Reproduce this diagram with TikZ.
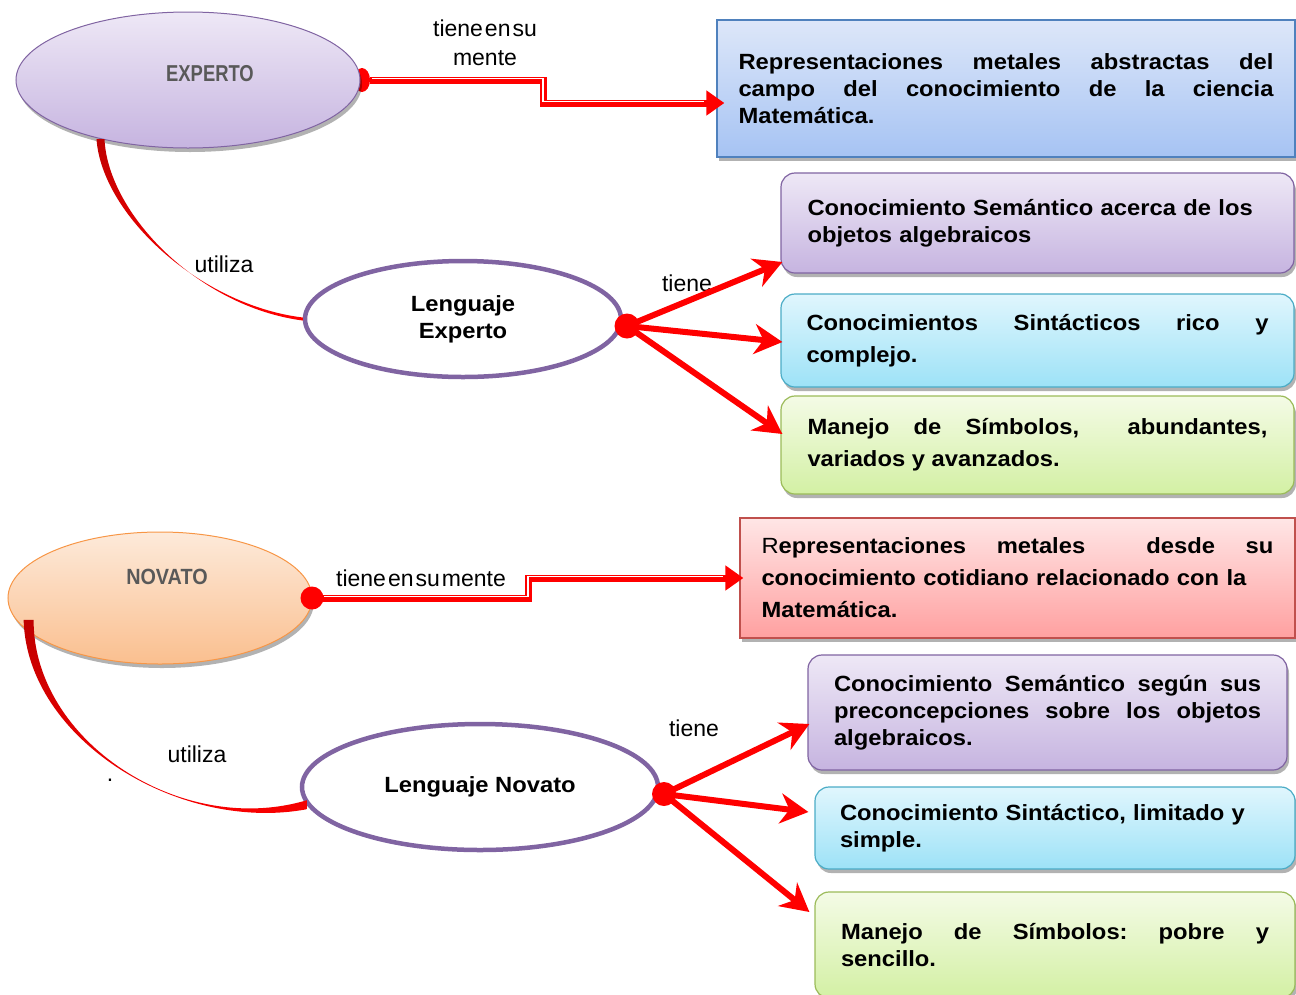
\documentclass[tikz,border=0pt]{standalone}
\usepackage{fontspec}
\setmainfont{Liberation Sans}
\newfontfamily\boxfont[FakeStretch=1.08]{Liberation Sans}
\newfontfamily\condfont[FakeStretch=0.8]{Liberation Sans}
\newfontfamily\semifont[FakeStretch=0.9]{Liberation Sans}
\usetikzlibrary{arrows.meta,shapes.geometric,shadows,backgrounds,calc}
\frenchspacing
\definecolor{purB}{HTML}{8064A2}
\definecolor{lavT}{HTML}{EEE8F6}
\definecolor{lavB}{HTML}{C6B4E0}
\definecolor{bluT}{HTML}{DDE7F9}
\definecolor{bluB}{HTML}{A6C3F3}
\definecolor{bluD}{HTML}{4F81BD}
\definecolor{cyaT}{HTML}{E0F6FD}
\definecolor{cyaB}{HTML}{9DE2F7}
\definecolor{cyaD}{HTML}{4BACC6}
\definecolor{grnT}{HTML}{F4FBE6}
\definecolor{grnB}{HTML}{D3F0A4}
\definecolor{grnD}{HTML}{9BBB59}
\definecolor{redT}{HTML}{FFE6E6}
\definecolor{redB}{HTML}{FFA0A0}
\definecolor{redD}{HTML}{C0504D}
\definecolor{pchT}{HTML}{FDEADA}
\definecolor{pchB}{HTML}{FABF8F}
\definecolor{pchD}{HTML}{F79646}
\definecolor{grayT}{HTML}{595959}
\definecolor{darkred}{HTML}{C00000}
\begin{document}
\begin{tikzpicture}[x=1pt,y=-1pt,
  shad/.style={drop shadow={shadow xshift=2pt,shadow yshift=-4pt,opacity=0.3,fill=black}},
  boxbase/.style={draw, line width=1.2pt, inner sep=0pt, align=justify, shad,
    font=\boxfont\bfseries\fontsize{22}{27}\selectfont},
  wide/.style={font=\boxfont\bfseries\fontsize{22}{32}\selectfont},
  rbox/.style={boxbase, rounded corners=14pt},
  langell/.style={ellipse, draw=purB, line width=4.5pt, fill=white, inner sep=0pt,
    align=center, font=\boxfont\bfseries\fontsize{22}{27}\selectfont},
  lbl/.style={inner sep=0pt, font=\fontsize{23}{29}\selectfont},
  dot/.style={circle, fill=red, inner sep=0pt},
  dbl/.style={draw=red, line width=7pt, -{Triangle[length=18pt,width=24pt]}},
  stripe/.style={draw=white, line width=1.6pt, shorten >=20pt, shorten <=12pt},
  tarr/.style={draw=red, line width=6pt, -{Stealth[length=28pt,width=30pt,inset=9pt]}}
]
\useasboundingbox (0,0) rectangle (1296,994);

% ---------- EXPERTO part ----------
\node[ellipse, minimum width=344pt, minimum height=136pt, draw=purB, line width=1pt,
  top color=lavT, bottom color=lavB, shad] (expE) at (188,80) {};
\node[inner sep=0pt, text=grayT, font=\condfont\bfseries\fontsize{23}{27}\selectfont] (expT) at (210,74) {EXPERTO};

\node[boxbase, draw=bluD, top color=bluT, bottom color=bluB,
  minimum width=578pt, minimum height=137pt, text width=535pt] (blue) at (1006,88.5)
  {Representaciones metales abstractas del\linebreak campo del conocimiento de la ciencia\linebreak Matemática.};

\node[langell, minimum width=316pt, minimum height=116pt] (lenE) at (463,319) {Lenguaje\\Experto};

\node[rbox, align=left, draw=purB, top color=lavT, bottom color=lavB,
  minimum width=513pt, minimum height=100pt, text width=460pt] (p1) at (1037.5,223)
  {Conocimiento Semántico acerca de los\\objetos algebraicos};
\node[rbox, wide, draw=cyaD, top color=cyaT, bottom color=cyaB,
  minimum width=513pt, minimum height=93pt, text width=462pt] (c1) at (1037.5,340.5)
  {Conocimientos Sintácticos rico y\linebreak complejo.};
\node[rbox, wide, draw=grnD, top color=grnT, bottom color=grnB,
  minimum width=513pt, minimum height=98pt, text width=460pt] (g1) at (1037.5,445)
  {Manejo de Símbolos,~ abundantes,\linebreak variados y avanzados.};

% ---------- NOVATO part ----------
\node[ellipse, minimum width=304pt, minimum height=132pt, draw=pchD, line width=1pt,
  top color=pchT, bottom color=pchB, shad] (novE) at (160,598) {};
\node[inner sep=0pt, text=grayT, font=\semifont\bfseries\fontsize{22}{27}\selectfont] (novT) at (167,577) {NOVATO};

\node[boxbase, wide, align=left, draw=redD, top color=redT, bottom color=redB,
  minimum width=555pt, minimum height=120pt, text width=512pt] (red) at (1017.5,578)
  {\hbox to 512pt{{\mdseries R}epresentaciones\hfill metales\hfill\hfill desde\hfill su}\\conocimiento cotidiano relacionado con la\\Matemática.};

\node[langell, minimum width=356pt, minimum height=126pt] (lenN) at (480,787) {Lenguaje Novato};

\node[rbox, draw=purB, top color=lavT, bottom color=lavB,
  minimum width=479pt, minimum height=115pt, text width=427pt] (p2) at (1047.5,712.5)
  {Conocimiento Semántico según sus\linebreak preconcepciones sobre los objetos\linebreak algebraicos.};
\node[rbox, align=left, draw=cyaD, top color=cyaT, bottom color=cyaB,
  minimum width=480pt, minimum height=82pt, text width=430pt] (c2) at (1055,828)
  {Conocimiento Sintáctico, limitado y\\simple.};
\node[rbox, draw=grnD, top color=grnT, bottom color=grnB,
  minimum width=480pt, minimum height=106pt, text width=428pt] (g2) at (1055,945)
  {Manejo de Símbolos: pobre y\linebreak sencillo.};

% ---------- labels ----------
\node[lbl, align=center] (l1) at (485,43) {tiene\hspace{2pt}en\hspace{2pt}su\\mente};
\node[lbl] (l2) at (224,264) {utiliza};
\node[lbl] (l3) at (687,283) {tiene};
\node[lbl] (l4) at (421,578) {tiene\hspace{2pt}en\hspace{2pt}su\hspace{2pt}mente};
\node[lbl] (l5) at (197,754) {utiliza};
\node[lbl] (l6) at (694,728) {tiene};
\node[lbl] (l7) at (110,780) {.};

% ---------- dots ----------
\node[dot, minimum size=25pt] (dE2) at (627,326) {};
\node[dot, minimum size=23pt] (dN1) at (312,598) {};
\node[dot, minimum size=24pt] (dN2) at (664,794) {};

% ---------- utiliza curves (tapered) ----------
\coordinate (uEs) at (expE.214);
\path[top color=darkred, bottom color=red]
  ($(uEs)+(-4,0)$) .. controls (102,215) and (200,305) .. ($(lenE.west)+(0,-1.5)$)
  -- ($(lenE.west)+(0,1.5)$) .. controls (199,307) and (108,214) .. ($(uEs)+(4,0)$) -- cycle;

\coordinate (uNs) at ($(novE.190)+(10,-3)$);
\path[top color=darkred, bottom color=red]
  ($(uNs)+(-5,0)$) .. controls (27,740) and (180,833) .. ($(lenN.186)+(0,4)$)
  -- ($(lenN.186)+(0,-5)$) .. controls (180,838) and (33,740) .. ($(uNs)+(5,0)$) -- cycle;

% ---------- tiene arrows ----------
\draw[tarr] (dE2.center) -- ([xshift=2pt,yshift=-39pt]p1.west);
\draw[tarr] (dE2.center) -- ([xshift=2pt,yshift=-1.5pt]c1.west);
\draw[tarr] (dE2.center) -- ([xshift=2pt,yshift=11pt]g1.west);
\draw[tarr] (dN2.center) -- ([xshift=2pt,yshift=-11.5pt]p2.west);
\draw[tarr] (dN2.center) -- ([xshift=-6pt,yshift=16pt]c2.west);
\draw[tarr] (dN2.center) -- ([xshift=-5pt,yshift=33pt]g2.west);

% ---------- tiene en su mente connectors ----------
\draw[dbl] (dN1.center) -- ++(216,0) |- ([xshift=4pt]red.west);
\draw[stripe] ([yshift=1.5pt]dN1.center) -- ++(216,0) |- ([xshift=4pt,yshift=1.5pt]red.west);

\begin{scope}[on background layer]
  \node[dot, minimum width=16pt, minimum height=24pt, ellipse] (dE1) at (362,80) {};
\end{scope}
\draw[dbl] (dE1.east) -- ++(173,0) |- ([xshift=8pt,yshift=-14.5pt]blue.west);
\draw[stripe, shorten <=2pt] ([yshift=1.5pt]dE1.east) -- ++(173,0) |- ([xshift=8pt,yshift=-13pt]blue.west);
\end{tikzpicture}
\end{document}
